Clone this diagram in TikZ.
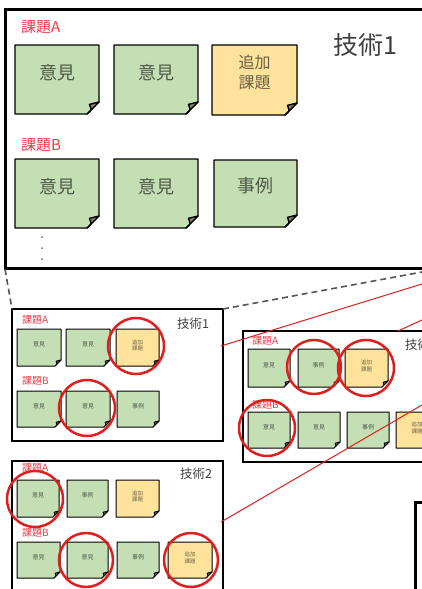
\documentclass[tikz,border=0pt]{standalone}
\usepackage{fontspec}
\setmainfont{Noto Sans CJK JP}
\definecolor{notegreen}{HTML}{C5DFB4}
\definecolor{noteyellow}{HTML}{FFE39A}
\definecolor{foldc}{HTML}{8C8068}
\definecolor{lblred}{HTML}{EE3A4A}
\definecolor{circred}{HTML}{E01E1E}
\definecolor{ntxt}{HTML}{4E5A48}
\definecolor{ytxt}{HTML}{6A6248}
\definecolor{dashc}{HTML}{555555}
\newcommand\snote[8]{%
  \filldraw[fill=#6,line width=#8,line join=round] (#2,#3) -- (#4,#3) -- (#4,{#5-#7}) -- ({#4-#7},#5) -- (#2,#5) -- cycle;
  \filldraw[fill=foldc,line width=#8,line join=round] (#4,{#5-#7}) -- ({#4-#7},#5) .. controls ({#4-0.6*#7},{#5-0.3*#7}) .. ({#4-0.8*#7},{#5-0.8*#7}) -- cycle;
  \coordinate (#1) at ({(#2+#4)/2},{(#3+#5)/2});
}
\tikzset{
  bigtxt/.style={text=ntxt,font=\fontsize{18}{21}\selectfont,align=center,inner sep=0pt},
  bigytxt/.style={text=ytxt,font=\fontsize{16}{20}\selectfont,align=center,inner sep=0pt},
  smtxt/.style={text=ntxt,font=\fontsize{6}{7}\selectfont,align=center,inner sep=0pt},
  smytxt/.style={text=ytxt,font=\fontsize{5.5}{6.5}\selectfont,align=center,inner sep=0pt},
  biglbl/.style={text=lblred,font=\fontsize{15}{17}\selectfont,anchor=west,inner sep=0pt},
  smlbl/.style={text=lblred,font=\fontsize{10}{12}\selectfont,anchor=west,inner sep=0pt},
  bigtech/.style={text=black!75,font=\fontsize{25}{28}\selectfont,anchor=west,inner sep=0pt},
  smtech/.style={text=black!75,font=\fontsize{12.5}{14}\selectfont,anchor=west,inner sep=0pt},
  redring/.style={draw=circred,line width=2.5pt},
  zoomline/.style={draw=circred,line width=1pt},
  dashline/.style={draw=dashc,line width=1.6pt,dash pattern=on 6pt off 4pt},
}
\begin{document}
\begin{tikzpicture}[x=1pt,y=-1pt]
\useasboundingbox (0,0) rectangle (422,589);
\clip (0,0) rectangle (422,589);
\fill[white] (0,0) rectangle (422,589);

% ---------- big box ----------
\draw[line width=3pt] (5,9) rectangle (440,268);
\coordinate (bigBL) at (5,269);
\node[biglbl] (bA) at (21,27) {課題A};
\node[biglbl] (bB) at (21,145) {課題B};
\node[bigtech] (bT) at (333,45) {技術1};
\snote{n1}{15}{45}{99}{114}{notegreen}{12}{1.4pt}
\snote{n2}{114}{45}{198}{114}{notegreen}{12}{1.4pt}
\snote{n3}{212}{45}{297}{115}{noteyellow}{12}{1.4pt}
\snote{n4}{15}{159}{99}{228}{notegreen}{12}{1.4pt}
\snote{n5}{114}{159}{198}{228}{notegreen}{12}{1.4pt}
\snote{n6}{214}{160}{297}{227}{notegreen}{12}{1.4pt}
\node[bigtxt] (t1) at ([yshift=7pt]n1) {意見};
\node[bigtxt] (t2) at ([yshift=7pt]n2) {意見};
\node[bigytxt] (t3) at ([yshift=8pt]n3) {追加\\課題};
\node[bigtxt] (t4) at ([yshift=7pt]n4) {意見};
\node[bigtxt] (t5) at ([yshift=7pt]n5) {意見};
\node[bigtxt] (t6) at ([yshift=8pt]n6) {事例};
\fill[black!60] (42,237) circle (1pt) (42,248) circle (1pt) (42,259) circle (1pt);

% ---------- small box 1 ----------
\draw[line width=1.2pt] (12,309) rectangle (223,441);
\coordinate (s1TL) at (12,309);
\coordinate (s1TR) at (223,309);
\coordinate (s1R) at (221,346);
\node[smlbl] (s1A) at (22,320) {課題A};
\node[smlbl] (s1B) at (22,381) {課題B};
\node[smtech] (s1T) at (177,324) {技術1};
\snote{a1}{17}{329}{61}{366}{notegreen}{6}{1pt}
\snote{a2}{66}{329}{110}{366}{notegreen}{6}{1pt}
\snote{a3}{116}{329}{159}{366}{noteyellow}{6}{1pt}
\snote{a4}{17}{391}{61}{427}{notegreen}{6}{1pt}
\snote{a5}{66}{391}{110}{427}{notegreen}{6}{1pt}
\snote{a6}{117}{391}{159}{427}{notegreen}{6}{1pt}
\node[smtxt] at ([yshift=3pt]a1) {意見};
\node[smtxt] at ([yshift=3pt]a2) {意見};
\node[smytxt] at ([yshift=2pt]a3) {追加\\課題};
\node[smtxt] at ([yshift=3pt]a4) {意見};
\node[smtxt] at ([yshift=3pt]a5) {意見};
\node[smtxt] at ([yshift=3pt]a6) {事例};
\draw[redring] (136,346) circle (28);
\draw[redring] (87,408) circle (28);

% ---------- small box 2 ----------
\draw[line width=1.2pt] (243,331) rectangle (440,462);
\coordinate (s2T) at (398,331);
\node[smlbl] (s2A) at (252,341) {課題A};
\node[smlbl] (s2B) at (252,405) {課題B};
\node[smtech] (s2T1) at (405,345) {技術1};
\snote{c1}{248}{349}{290}{387}{notegreen}{6}{1pt}
\snote{c2}{298}{349}{339}{387}{notegreen}{6}{1pt}
\snote{c3}{345}{349}{388}{387}{noteyellow}{6}{1pt}
\snote{c4}{248}{412}{290}{448}{notegreen}{6}{1pt}
\snote{c5}{298}{412}{340}{448}{notegreen}{6}{1pt}
\snote{c6}{347}{412}{389}{448}{notegreen}{6}{1pt}
\snote{c7}{396}{412}{438}{448}{noteyellow}{6}{1pt}
\node[smtxt] at ([yshift=3pt]c1) {意見};
\node[smtxt] at ([yshift=3pt]c2) {事例};
\node[smytxt] at ([yshift=2pt]c3) {追加\\課題};
\node[smtxt] at ([yshift=3pt]c4) {意見};
\node[smtxt] at ([yshift=3pt]c5) {意見};
\node[smtxt] at ([yshift=3pt]c6) {事例};
\node[smytxt] at ([yshift=2pt]c7) {追加\\課題};
\draw[redring] (314,367) circle (27);
\draw[redring] (366,368) circle (28);
\draw[redring] (267,428) circle (28);

% ---------- small box 3 ----------
\draw[line width=1.2pt] (12,461) rectangle (223,600);
\coordinate (s3R) at (221,522);
\node[smlbl] (s3A) at (22,468) {課題A};
\node[smlbl] (s3B) at (22,533) {課題B};
\node[smtech] (s3T) at (180,474) {技術2};
\snote{d1}{17}{480}{59}{517}{notegreen}{6}{1pt}
\snote{d2}{67}{480}{108}{517}{notegreen}{6}{1pt}
\snote{d3}{116}{480}{159}{517}{noteyellow}{6}{1pt}
\snote{d4}{17}{542}{60}{578}{notegreen}{6}{1pt}
\snote{d5}{67}{542}{108}{578}{notegreen}{6}{1pt}
\snote{d6}{117}{542}{159}{578}{notegreen}{6}{1pt}
\snote{d7}{168}{542}{212}{578}{noteyellow}{6}{1pt}
\node[smtxt] at ([yshift=3pt]d1) {意見};
\node[smtxt] at ([yshift=3pt]d2) {事例};
\node[smytxt] at ([yshift=2pt]d3) {追加\\課題};
\node[smtxt] at ([yshift=3pt]d4) {意見};
\node[smtxt] at ([yshift=3pt]d5) {意見};
\node[smtxt] at ([yshift=3pt]d6) {事例};
\node[smytxt] at ([yshift=2pt]d7) {追加\\課題};
\draw[redring] (35,499) circle (28);
\draw[redring] (86,560) circle (27);
\draw[redring] (191,560) circle (27);

% ---------- box 4 ----------
\draw[line width=3pt] (415,502) rectangle (460,620);

% ---------- connectors ----------
\coordinate (e1) at (422,272);
\coordinate (e2) at (422,284);
\coordinate (e3) at (422,320);
\coordinate (e4) at (422,405);
\draw[dashline] (bigBL) -- (s1TL);
\draw[dashline] (s1TR) -- (e1);
\draw[zoomline] (s1R) -- (e2);
\draw[zoomline] (s2T) -- (e3);
\draw[zoomline] (s3R) -- (e4);
\end{tikzpicture}
\end{document}
